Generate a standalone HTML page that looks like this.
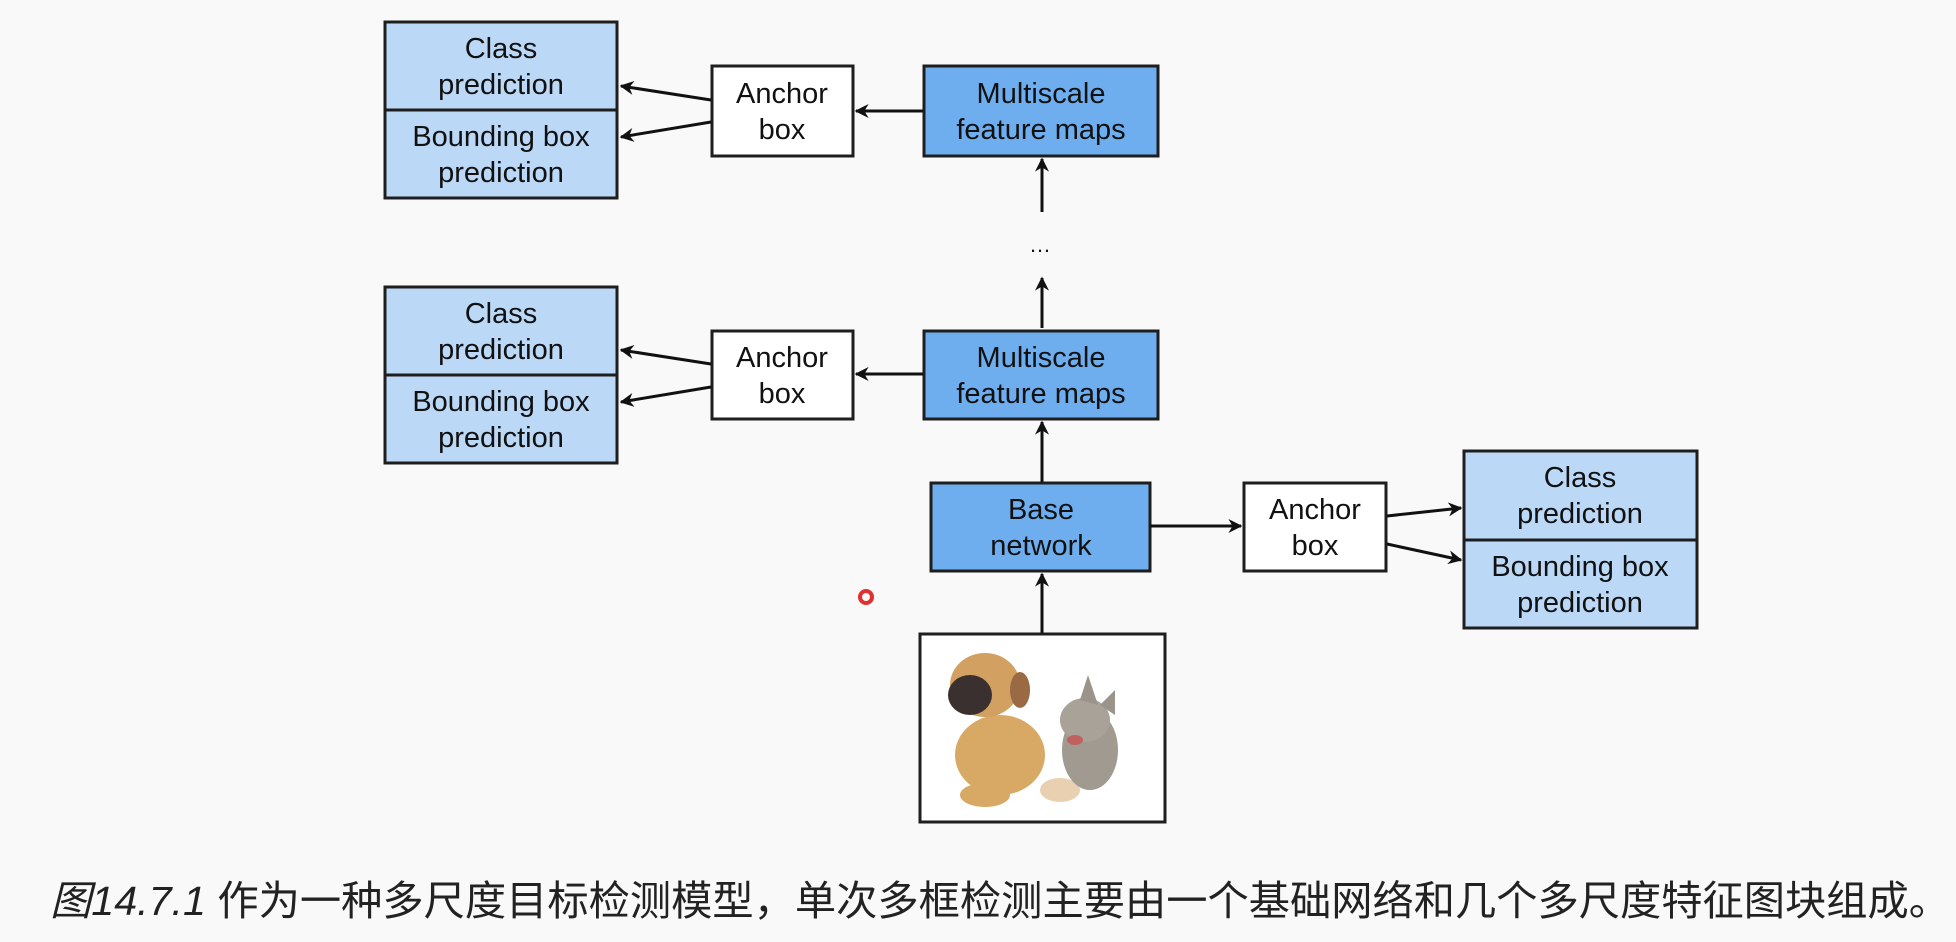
<!DOCTYPE html>
<html><head><meta charset="utf-8"><style>
html,body{margin:0;padding:0;background:#f9f9f9;}
svg{display:block}
text{font-family:"Liberation Sans",sans-serif;font-size:29px;fill:#111;text-anchor:middle}
.cap{font-family:"Liberation Sans","Noto Sans CJK SC",sans-serif;font-size:41px;text-anchor:start;fill:#222}
.lb{fill:#bcd8f7;stroke:#1e1e1e;stroke-width:3}
.db{fill:#6eaeef;stroke:#1e1e1e;stroke-width:3}
.wb{fill:#fff;stroke:#1e1e1e;stroke-width:3}
.ar{stroke:#111;stroke-width:3;fill:none;marker-end:url(#ah2)}
</style></head><body>
<svg width="1956" height="942" viewBox="0 0 1956 942">
<defs>
<marker id="ah2" viewBox="0 0 10 10" markerWidth="18" markerHeight="14" refX="9" refY="5" orient="auto" markerUnits="userSpaceOnUse"><path d="M0,0 L10,5 L0,10 L3,5 z" fill="#111"/></marker></defs>

<!-- top row -->
<rect class="lb" x="385" y="22" width="232" height="88"/>
<rect class="lb" x="385" y="110" width="232" height="88"/>
<text x="501" y="58">Class</text><text x="501" y="94">prediction</text>
<text x="501" y="146">Bounding box</text><text x="501" y="182">prediction</text>
<rect class="wb" x="712" y="66" width="141" height="90"/>
<text x="782" y="103">Anchor</text><text x="782" y="139">box</text>
<rect class="db" x="924" y="66" width="234" height="90"/>
<text x="1041" y="103">Multiscale</text><text x="1041" y="139">feature maps</text>
<line class="ar" x1="711" y1="100" x2="621" y2="86"/>
<line class="ar" x1="711" y1="122" x2="621" y2="137"/>
<line class="ar" x1="923" y1="111" x2="856" y2="111"/>
<line class="ar" x1="1042" y1="212" x2="1042" y2="159"/>
<text x="1040" y="252" style="font-size:22px">…</text>
<line class="ar" x1="1042" y1="328" x2="1042" y2="278"/>

<!-- middle row -->
<rect class="lb" x="385" y="287" width="232" height="88"/>
<rect class="lb" x="385" y="375" width="232" height="88"/>
<text x="501" y="323">Class</text><text x="501" y="359">prediction</text>
<text x="501" y="411">Bounding box</text><text x="501" y="447">prediction</text>
<rect class="wb" x="712" y="331" width="141" height="88"/>
<text x="782" y="367">Anchor</text><text x="782" y="403">box</text>
<rect class="db" x="924" y="331" width="234" height="88"/>
<text x="1041" y="367">Multiscale</text><text x="1041" y="403">feature maps</text>
<line class="ar" x1="711" y1="364" x2="621" y2="350"/>
<line class="ar" x1="711" y1="387" x2="621" y2="402"/>
<line class="ar" x1="923" y1="374" x2="856" y2="374"/>
<line class="ar" x1="1042" y1="482" x2="1042" y2="422"/>

<!-- base -->
<rect class="db" x="931" y="483" width="219" height="88"/>
<text x="1041" y="519">Base</text><text x="1041" y="555">network</text>
<line class="ar" x1="1150" y1="526" x2="1241" y2="526"/>
<rect class="wb" x="1244" y="483" width="142" height="88"/>
<text x="1315" y="519">Anchor</text><text x="1315" y="555">box</text>
<line class="ar" x1="1387" y1="516" x2="1461" y2="508"/>
<line class="ar" x1="1387" y1="544" x2="1461" y2="560"/>
<rect class="lb" x="1464" y="451" width="233" height="89"/>
<rect class="lb" x="1464" y="540" width="233" height="88"/>
<text x="1580" y="487">Class</text><text x="1580" y="523">prediction</text>
<text x="1580" y="576">Bounding box</text><text x="1580" y="612">prediction</text>
<line class="ar" x1="1042" y1="634" x2="1042" y2="574"/>

<!-- image -->
<rect class="wb" x="920" y="634" width="245" height="188"/>
<ellipse cx="1000" cy="755" rx="45" ry="40" fill="#d8a865"/>
<ellipse cx="985" cy="685" rx="35" ry="32" fill="#d2a060"/>
<ellipse cx="970" cy="695" rx="22" ry="20" fill="#3a3030"/>
<ellipse cx="1020" cy="690" rx="10" ry="18" fill="#9a6a45"/>
<ellipse cx="985" cy="795" rx="25" ry="12" fill="#d8a865"/>
<ellipse cx="1060" cy="790" rx="20" ry="12" fill="#e8d0b0"/>
<ellipse cx="1090" cy="750" rx="28" ry="40" fill="#a09a90"/>
<ellipse cx="1085" cy="720" rx="25" ry="22" fill="#a8a298"/>
<polygon points="1080,700 1088,675 1098,705" fill="#9a948a"/>
<polygon points="1100,705 1115,690 1115,715" fill="#9a948a"/>
<ellipse cx="1075" cy="740" rx="8" ry="5" fill="#c06060"/>

<circle cx="866" cy="597" r="6" fill="none" stroke="#e03030" stroke-width="4"/>

<text class="cap" x="50" y="915" textLength="1900" lengthAdjust="spacingAndGlyphs"><tspan font-style="italic">图14.7.1</tspan> 作为一种多尺度目标检测模型，单次多框检测主要由一个基础网络和几个多尺度特征图块组成。</text>
</svg>
</body></html>
